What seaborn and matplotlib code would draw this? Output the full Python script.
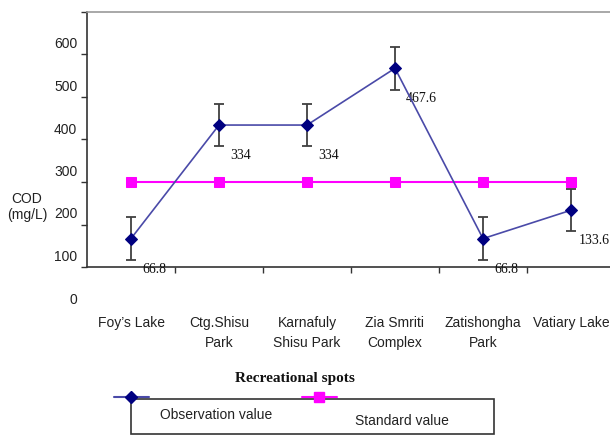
import matplotlib
matplotlib.use("Agg")
import matplotlib.pyplot as plt
from matplotlib.transforms import ScaledTranslation
from matplotlib.lines import Line2D
from matplotlib.patches import Rectangle
import numpy as np
import pandas as pd
import seaborn as sns

# COD measurements at each recreational spot (mg/L)
spots = ["Foy\u2019s Lake", "Ctg.Shisu\nPark", "Karnafuly\nShisu Park",
         "Zia Smriti\nComplex", "Zatishongha\nPark", "Vatiary Lake"]
observed = [66.8, 334, 334, 467.6, 66.8, 133.6]
observed_err = [50, 50, 50, 50, 50, 50]
standard = [200, 200, 200, 200, 200, 200]
y_ticks = [0, 100, 200, 300, 400, 500, 600]

sns.set_theme(style="white")
plt.rcParams["font.family"] = ["Liberation Sans", "DejaVu Sans"]

pos = np.arange(len(spots))
df = pd.DataFrame({"pos": pos, "observed": observed, "standard": standard})

fig = plt.figure(figsize=(6.10, 4.36), dpi=100)
ax = fig.add_axes([87 / 610, 169 / 436, 528 / 610, 255 / 436])

obs_line = "#4a4aa8"
obs_marker = "#000080"
std_color = "#ff00ff"

sns.lineplot(data=df, x="pos", y="standard", ax=ax, color=std_color, lw=1.5,
             marker="s", markersize=7, markeredgecolor=std_color,
             markerfacecolor=std_color, zorder=3)
ax.errorbar(pos, observed, yerr=observed_err, fmt="none", ecolor="#404040",
            elinewidth=1.3, capsize=3.5, capthick=1.3, zorder=2)
sns.lineplot(data=df, x="pos", y="observed", ax=ax, color=obs_line, lw=1.2,
             marker="D", markersize=6, markeredgecolor=obs_marker,
             markerfacecolor=obs_marker, zorder=4)

for x, v in zip(pos, observed):
    dx = 5.5 if x == pos[-1] else 8
    ax.annotate(f"{v:g}", (x, v), xytext=(dx, -22), textcoords="offset points",
                ha="left", va="center", fontsize=10,
                family=["Liberation Serif", "DejaVu Serif"], color="#111111")

ax.set_xlim(-0.5, 5.5)
ax.set_ylim(0, 600)

ax.set_yticks(y_ticks)
ax.set_yticklabels([str(t) for t in y_ticks])
ax.tick_params(axis="y", left=True, length=4, width=1, color="#333333",
               pad=3, labelsize=10, labelcolor="#222222", direction="out")
shift = ScaledTranslation(0, -31 / 100, fig.dpi_scale_trans)
for lab in ax.get_yticklabels():
    lab.set_transform(lab.get_transform() + shift)

ax.set_xticks(pos)
ax.set_xticklabels(spots, linespacing=1.6)
ax.set_xticks(pos[:-1] + 0.5, minor=True)
ax.tick_params(axis="x", which="major", bottom=False, length=0, pad=35,
               labelsize=10, labelcolor="#222222")
ax.tick_params(axis="x", which="minor", bottom=True, length=4, width=1,
               color="#333333", direction="out")
for lab in ax.get_xticklabels():
    lab.set_verticalalignment("top")

ax.set_xlabel("")
ax.set_ylabel("")

for side in ("left", "bottom"):
    ax.spines[side].set_color("#333333")
    ax.spines[side].set_linewidth(1.2)
ax.spines["top"].set_color("#999999")
ax.spines["top"].set_linewidth(1.2)
ax.spines["right"].set_visible(False)

fig.text(27 / 610, 1 - 207 / 436, "COD\n(mg/L)", ha="center", va="center",
         fontsize=10, color="#222222", linespacing=1.15)
fig.text(295 / 610, 1 - 378 / 436, "Recreational spots", ha="center",
         va="center", fontsize=11, fontweight="bold",
         family=["Liberation Serif", "DejaVu Serif"], color="#111111")

# Legend frame with entries
fig.add_artist(Rectangle((131 / 610, 1 - 434 / 436), (494 - 131) / 610,
                         (434 - 399) / 436, transform=fig.transFigure,
                         fill=False, edgecolor="#333333", lw=1.2))
ly = 1 - 397 / 436
fig.add_artist(Line2D([114 / 610, 149 / 610], [ly, ly], transform=fig.transFigure,
                      color=obs_line, lw=1.5))
fig.add_artist(Line2D([131 / 610], [ly], transform=fig.transFigure,
                      marker="D", markersize=6, color=obs_marker, lw=0))
fig.add_artist(Line2D([302 / 610, 337 / 610], [ly, ly], transform=fig.transFigure,
                      color=std_color, lw=1.5))
fig.add_artist(Line2D([319 / 610], [ly], transform=fig.transFigure,
                      marker="s", markersize=7, color=std_color, lw=0))
fig.text(160 / 610, 1 - 415 / 436, "Observation value", ha="left",
         va="center", fontsize=10, color="#222222")
fig.text(355 / 610, 1 - 421 / 436, "Standard value", ha="left",
         va="center", fontsize=10, color="#222222")

fig.savefig("out.png", dpi=100, facecolor="white")
